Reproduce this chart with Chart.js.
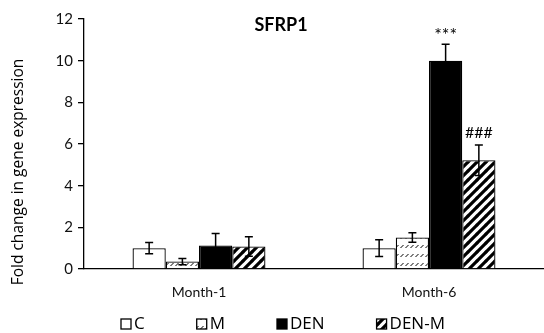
<!DOCTYPE html>
<html>
<head>
<meta charset="utf-8">
<script src="https://cdn.jsdelivr.net/npm/chart.js@4.4.1/dist/chart.umd.min.js"></script>
<style>
html,body{margin:0;padding:0;background:#fff;}
#wrap{width:544px;height:333px;position:relative;}
</style>
</head>
<body>
<div id="wrap"><canvas id="c" width="544" height="333"></canvas></div>
<script>
// ---- data ----
const categories = ['Month-1', 'Month-6'];
const seriesNames = ['C', 'M', 'DEN', 'DEN-M'];
const valuesC = [1.0, 1.0];
const valuesM = [0.36, 1.51];
const valuesDEN = [1.13, 10.0];
const valuesDENM = [1.08, 5.22];
const errC = [0.27, 0.40];
const errM = [0.15, 0.23];
const errDEN = [0.57, 0.79];
const errDENM = [0.47, 0.73];
const marksDEN = ['', '***'];
const marksDENM = ['', '###'];
const yTicks = [0, 2, 4, 6, 8, 10, 12];
const chartTitle = 'SFRP1';
const yTitle = 'Fold change in gene expression';

// ---- patterns ----
function makePattern(kind) {
  const c = document.createElement('canvas');
  const ctx = c.getContext('2d');
  if (kind === 'dash') {
    c.width = 5; c.height = 9;
    ctx.fillStyle = '#fff'; ctx.fillRect(0, 0, 5, 9);
    ctx.strokeStyle = '#000'; ctx.lineWidth = 1;
    ctx.beginPath(); ctx.moveTo(0.5, 5); ctx.lineTo(3.5, 2); ctx.stroke();
  } else {
    const s = 9;
    c.width = s; c.height = s;
    ctx.fillStyle = '#fff'; ctx.fillRect(0, 0, s, s);
    ctx.strokeStyle = '#000'; ctx.lineWidth = 3.2;
    ctx.beginPath();
    ctx.moveTo(-1, 1); ctx.lineTo(1, -1);
    ctx.moveTo(0, s); ctx.lineTo(s, 0);
    ctx.moveTo(s - 1, s + 1); ctx.lineTo(s + 1, s - 1);
    ctx.stroke();
  }
  return ctx.createPattern(c, 'repeat');
}
const fills = ['#ffffff', makePattern('dash'), '#000000', makePattern('hatch')];

const seriesValues = [valuesC, valuesM, valuesDEN, valuesDENM];
const seriesErr = [errC, errM, errDEN, errDENM];
const seriesMarks = [['', ''], ['', ''], marksDEN, marksDENM];

const datasets = seriesNames.map((n, i) => ({
  label: n,
  data: seriesValues[i],
  backgroundColor: fills[i],
  borderColor: '#000',
  borderWidth: 1.3,
  borderSkipped: 'bottom',
  categoryPercentage: 0.578,
  barPercentage: 1.0
}));

const extras = {
  id: 'extras',
  afterDatasetsDraw(chart) {
    const ctx = chart.ctx;
    const y = chart.scales.y;
    ctx.save();
    ctx.strokeStyle = '#000';
    ctx.lineWidth = 1.5;
    seriesValues.forEach((vals, i) => {
      const meta = chart.getDatasetMeta(i);
      vals.forEach((v, j) => {
        const x = meta.data[j].x;
        const e = seriesErr[i][j];
        const yt = y.getPixelForValue(v + e);
        const yb = y.getPixelForValue(v - e);
        ctx.beginPath();
        ctx.moveTo(x, yt); ctx.lineTo(x, yb);
        ctx.moveTo(x - 4, yt); ctx.lineTo(x + 4, yt);
        ctx.moveTo(x - 4, yb); ctx.lineTo(x + 4, yb);
        ctx.stroke();
        const m = seriesMarks[i][j];
        if (m) {
          ctx.fillStyle = '#000';
          ctx.textAlign = 'center';
          ctx.textBaseline = 'alphabetic';
          if (m.charAt(0) === '*') {
            ctx.font = '18px Lato';
            ctx.fillText(m, x, yt - 3);
          } else {
            ctx.font = '16px Lato';
            ctx.fillText(m, x, yt - 7);
          }
        }
      });
    });
    ctx.restore();
  },
  afterDraw(chart) {
    const ctx = chart.ctx;
    ctx.save();
    ctx.fillStyle = '#000';
    ctx.font = 'bold 18px Lato';
    ctx.textAlign = 'center';
    ctx.textBaseline = 'middle';
    ctx.fillText(chartTitle, 281, 25);
    ctx.translate(19, 172);
    ctx.rotate(-Math.PI / 2);
    ctx.font = '15.5px "Open Sans"';
    ctx.fillStyle = '#000';
    ctx.fillText(yTitle, 0, 0);
    ctx.restore();
    ctx.save();
    ctx.font = '17px "Open Sans"';
    ctx.textBaseline = 'middle';
    ctx.textAlign = 'left';
    let x = 121;
    const cy = 324;
    const box = 10;
    seriesNames.forEach((n, i) => {
      ctx.fillStyle = fills[i];
      ctx.fillRect(x, cy - box / 2, box, box);
      ctx.strokeStyle = '#000';
      ctx.lineWidth = 1.3;
      ctx.strokeRect(x, cy - box / 2, box, box);
      ctx.fillStyle = '#000';
      ctx.fillText(n, x + box + 3, cy);
      x += box + 3 + ctx.measureText(n).width + 52;
    });
    ctx.restore();
  }
};

new Chart(document.getElementById('c'), {
  type: 'bar',
  data: { labels: categories, datasets },
  plugins: [extras],
  options: {
    responsive: false,
    animation: false,
    layout: { padding: { left: 0, right: 0, top: 19, bottom: 0 } },
    plugins: { legend: { display: false }, tooltip: { enabled: false }, title: { display: false } },
    scales: {
      x: {
        grid: { display: false, drawTicks: false },
        border: { display: true, color: '#000', width: 1.3 },
        ticks: { font: { family: 'Lato', size: 14 }, color: '#111', padding: 15 },
        afterFit(s) { s.height = 64; }
      },
      y: {
        min: 0, max: 12,
        afterBuildTicks(s) { s.ticks = yTicks.map(v => ({ value: v })); },
        grid: { drawOnChartArea: false, drawTicks: true, tickLength: 6, color: '#000', lineWidth: 1.3 },
        border: { display: true, color: '#000', width: 1.3 },
        ticks: { font: { family: 'Lato', size: 15 }, color: '#111', padding: 5 },
        afterFit(s) { s.width = 84; }
      }
    }
  }
});
</script>
</body>
</html>
